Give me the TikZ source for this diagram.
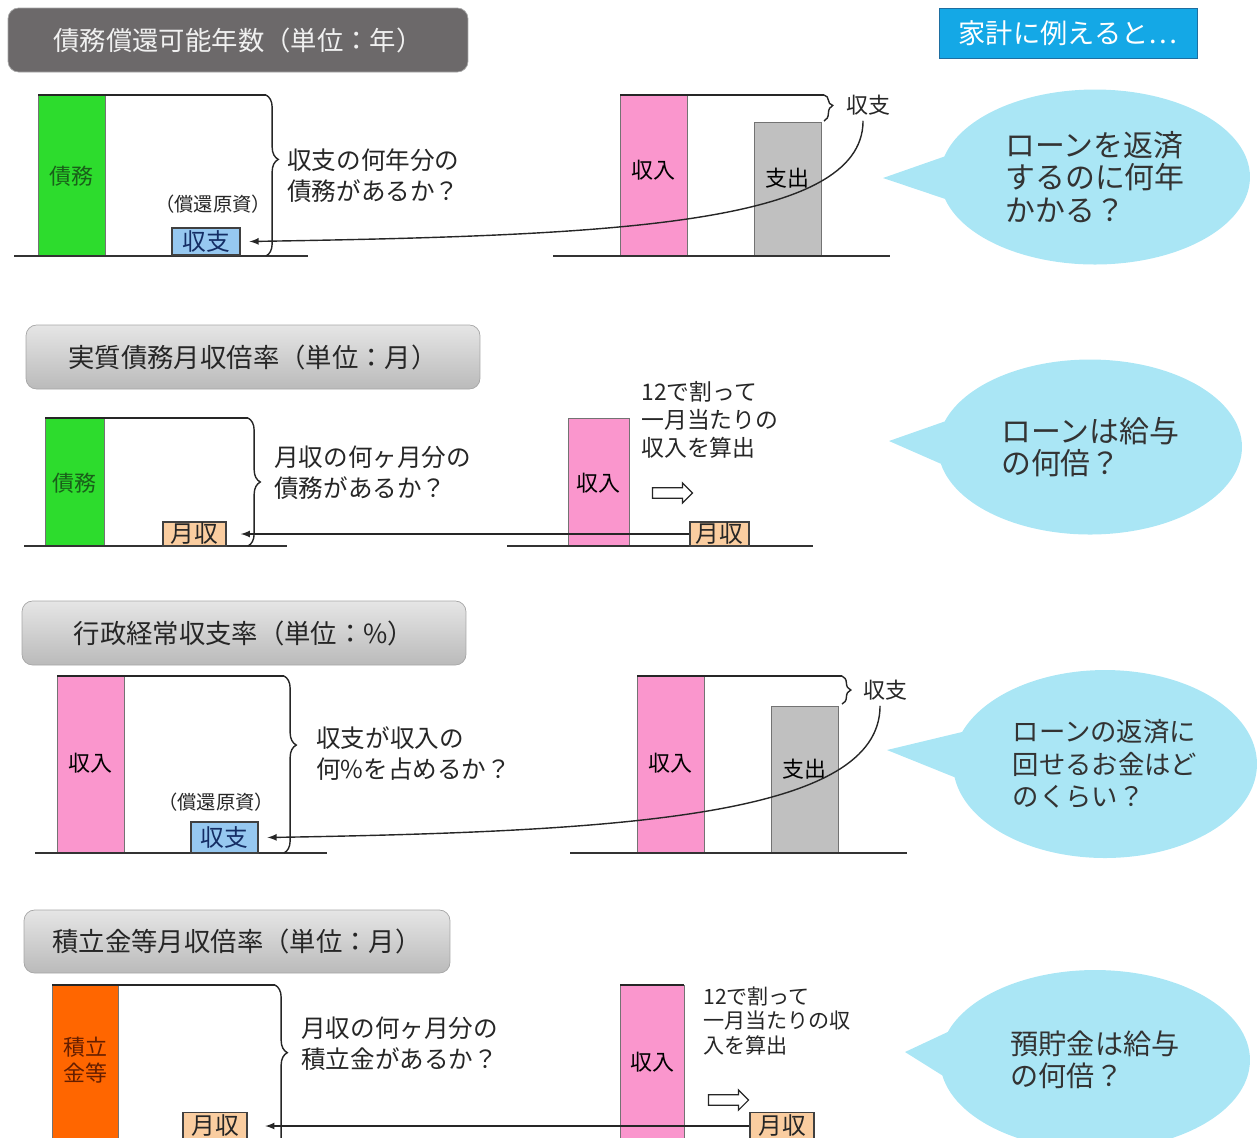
\documentclass[tikz,border=0pt]{standalone}
\usepackage{fontspec}
\setmainfont{Noto Sans CJK JP}
\usetikzlibrary{shapes.callouts,shapes.arrows,decorations.pathreplacing}
\definecolor{saimu}{RGB}{45,220,45}
\definecolor{saimutext}{RGB}{25,95,25}
\definecolor{shunyu}{RGB}{250,150,205}
\definecolor{shishutsu}{RGB}{192,192,192}
\definecolor{tsumitate}{RGB}{255,102,0}
\definecolor{tsumitatetext}{RGB}{100,30,0}
\definecolor{shushi}{RGB}{150,200,240}
\definecolor{shushitext}{RGB}{20,45,100}
\definecolor{gesshu}{RGB}{250,205,160}
\definecolor{balloon}{RGB}{170,230,245}
\definecolor{kakei}{RGB}{20,168,230}
\definecolor{kakeiline}{RGB}{30,110,160}
\definecolor{darktitle}{RGB}{108,105,106}
\begin{document}
\begin{tikzpicture}[>=latex,x=.02cm,y=-.02cm,
	titlebox/.style={draw=black!35,rounded corners=6pt,inner sep=0pt,minimum height=1.28cm,font=\fontsize{15}{18}\selectfont},
	lighttitle/.style={top color=black!10,bottom color=black!27,text=black!85},
	bar/.style={draw=black!55,line width=.5pt},
	barlabel/.style={inner sep=0pt,align=center,font=\fontsize{12.5}{15}\selectfont},
	txt/.style={inner sep=0pt,align=left,anchor=west,text=black!85,font=\fontsize{14}{17.6}\selectfont},
	tag/.style={draw=black!75,line width=.8pt,inner sep=0pt,text=black!85,font=\fontsize{13.5}{15}\selectfont},
	base/.style={line width=.9pt,black!80},
	edge/.style={line width=.8pt,black!85},
	hollow/.style={single arrow,draw=black!85,fill=white,line width=.7pt,minimum height=.8cm,inner xsep=0pt,inner ysep=2.6pt,single arrow head extend=2.8pt,single arrow head indent=0pt},
	bubble/.style={ellipse callout,fill=balloon,inner sep=0pt,callout pointer arc=28,align=left,text=black!80}]
	\useasboundingbox (0,0) rectangle (1257,1137);
	\clip (0,0) rectangle (1257,1137);
	
	\node[titlebox,fill=darktitle,text=white!94!black,minimum width=9.2cm] (t1) at (238,40) {債務償還可能年数（単位：年）};
	\node[titlebox,lighttitle,minimum width=9.08cm] (t2) at (253,357) {実質債務月収倍率（単位：月）};
	\node[titlebox,lighttitle,minimum width=8.88cm] (t3) at (244,633) {行政経常収支率（単位：\%）};
	\node[titlebox,lighttitle,minimum width=8.52cm,minimum height=1.26cm] (t4) at (237,941.5) {積立金等月収倍率（単位：月）};
	\node[draw=kakeiline,fill=kakei,text=white,minimum width=5.16cm,minimum height=1cm,inner sep=0pt,font=\fontsize{15.5}{18}\selectfont] (kk) at (1068,33) {家計に例えると…};
	
	\begin{scope}
		\filldraw[bar,fill=saimu] (38,95) rectangle (105,256);
		\filldraw[bar,fill=shunyu] (620,95) rectangle (687,256);
		\filldraw[bar,fill=shishutsu] (754,122) rectangle (821,256);
		\node[barlabel,text=saimutext] (s1) at (71.5,176) {債務};
		\node[barlabel] (i1) at (653.5,170) {収入};
		\node[barlabel] (o1) at (787.5,178) {支出};
		\draw[base] (14,256) -- (308,256) (553,256) -- (890,256);
		\draw[edge] (38,95) -- (266,95) (620,95) -- (824,95);
		\draw[edge,decorate,decoration={brace,amplitude=7pt,aspect=.4}] (266,95) -- (266,256);
		\draw[edge,decorate,decoration={brace,amplitude=5pt,aspect=.4}] (824,95) -- (824,121);
		\node[tag,fill=shushi,text=shushitext,minimum width=1.36cm,minimum height=.54cm] (bx1) at (206,241.5) {収支};
		\node[txt,anchor=center,font=\fontsize{11}{13}\selectfont] (g1) at (213,204) {（償還原資）};
		\node[txt] (q1) at (287,175.5) {収支の何年分の\\債務があるか？};
		\node[txt,font=\fontsize{12.5}{15}\selectfont] (hl1) at (846,105) {収支};
		\draw[->,edge] ([shift={(-3pt,-3pt)}]hl1.south) .. controls +(0,105) and +(360,-6) .. ([xshift=5pt]bx1.east);
		\node[bubble,callout absolute pointer={(883,178)},minimum width=6.2cm,minimum height=3.5cm,font=\fontsize{17}{18.3}\selectfont] (b1) at (1095,177) {ローンを返済\\するのに何年\\かかる？};
	\end{scope}
	
	\begin{scope}
		\filldraw[bar,fill=saimu] (45,418) rectangle (104,546);
		\filldraw[bar,fill=shunyu] (568,418) rectangle (629,546);
		\node[barlabel,text=saimutext] (s2) at (74.5,483) {債務};
		\node[barlabel] (i2) at (598.5,483) {収入};
		\draw[base] (24,546) -- (287,546) (507,546) -- (813,546);
		\draw[edge] (45,418) -- (248,418);
		\draw[edge,decorate,decoration={brace,amplitude=7pt,aspect=.5}] (248,418) -- (248,546);
		\node[tag,fill=gesshu,minimum width=1.26cm,minimum height=.48cm] (ml2) at (194.5,534) {月収};
		\node[tag,fill=gesshu,minimum width=1.18cm,minimum height=.48cm] (mr2) at (719.5,534) {月収};
		\node[txt] (q2) at (274,473) {月収の何ヶ月分の\\債務があるか？};
		\node[txt,font=\fontsize{13}{16}\selectfont] (d2) at (641,420) {12で割って\\一月当たりの\\収入を算出};
		\node[hollow] (a2) at (670,493) {};
		\draw[->,edge] (mr2.west) -- ([xshift=8pt]ml2.east);
		\node[bubble,callout absolute pointer={(889,441)},minimum width=6.08cm,minimum height=3.5cm,font=\fontsize{17}{18.3}\selectfont] (b2) at (1090,447) {ローンは給与\\の何倍？};
	\end{scope}
	
	\begin{scope}
		\filldraw[bar,fill=shunyu] (57,676) rectangle (124,853);
		\filldraw[bar,fill=shunyu] (637,676) rectangle (704,853);
		\filldraw[bar,fill=shishutsu] (771,706) rectangle (838,853);
		\node[barlabel] (i3) at (90.5,763) {収入};
		\node[barlabel] (j3) at (670.5,763) {収入};
		\node[barlabel] (o3) at (804.5,769) {支出};
		\draw[base] (35,853) -- (327,853) (570,853) -- (907,853);
		\draw[edge] (57,676) -- (284,676) (637,676) -- (842,676);
		\draw[edge,decorate,decoration={brace,amplitude=7pt,aspect=.39}] (284,676) -- (284,853);
		\draw[edge,decorate,decoration={brace,amplitude=5pt,aspect=.5}] (842,676) -- (842,704);
		\node[tag,fill=shushi,text=shushitext,minimum width=1.34cm,minimum height=.62cm] (bx3) at (224.5,837.5) {収支};
		\node[txt,anchor=center,font=\fontsize{11}{13}\selectfont] (g3) at (216,802) {（償還原資）};
		\node[txt] (q3) at (316,753.5) {収支が収入の\\何\%を占めるか？};
		\node[txt,font=\fontsize{12.5}{15}\selectfont] (hl3) at (863,690) {収支};
		\draw[->,edge] ([shift={(-3pt,-3pt)}]hl3.south) .. controls +(0,110) and +(360,-6) .. ([xshift=5pt]bx3.east);
		\node[bubble,callout absolute pointer={(887,750)},minimum width=6.08cm,minimum height=3.76cm,font=\fontsize{15}{18.5}\selectfont] (b3) at (1105,764) {ローンの返済に\\回せるお金はど\\のくらい？};
	\end{scope}
	
	\begin{scope}
		\filldraw[bar,fill=tsumitate] (52,985) rectangle (118,1150);
		\filldraw[bar,fill=shunyu] (620,985) rectangle (684,1150);
		\node[barlabel,text=tsumitatetext,font=\fontsize{12.5}{14.5}\selectfont] (ts) at (85,1060) {積立\\金等};
		\node[barlabel] (i4) at (652,1062) {収入};
		\draw[edge,line width=1.2pt] (52,985) -- (275,985) (620,985) -- (684,985);
		\draw[edge,decorate,decoration={brace,amplitude=7pt,aspect=.41}] (275,985) -- (275,1150);
		\node[tag,fill=gesshu,minimum width=1.28cm,minimum height=.54cm] (ml4) at (215,1126) {月収};
		\node[tag,fill=gesshu,minimum width=1.28cm,minimum height=.54cm] (mr4) at (782,1126) {月収};
		\node[txt] (q4) at (301,1044) {月収の何ヶ月分の\\積立金があるか？};
		\node[txt,font=\fontsize{12}{14}\selectfont] (d4) at (703,1021) {12で割って\\一月当たりの収\\入を算出};
		\node[hollow] (a4) at (726,1100) {};
		\draw[->,edge] (mr4.west) -- ([xshift=10pt]ml4.east);
		\node[bubble,callout absolute pointer={(905,1052)},minimum width=6.2cm,minimum height=3.6cm,font=\fontsize{16}{18.3}\selectfont] (b4) at (1095,1060) {預貯金は給与\\の何倍？};
	\end{scope}
\end{tikzpicture}
\end{document}
